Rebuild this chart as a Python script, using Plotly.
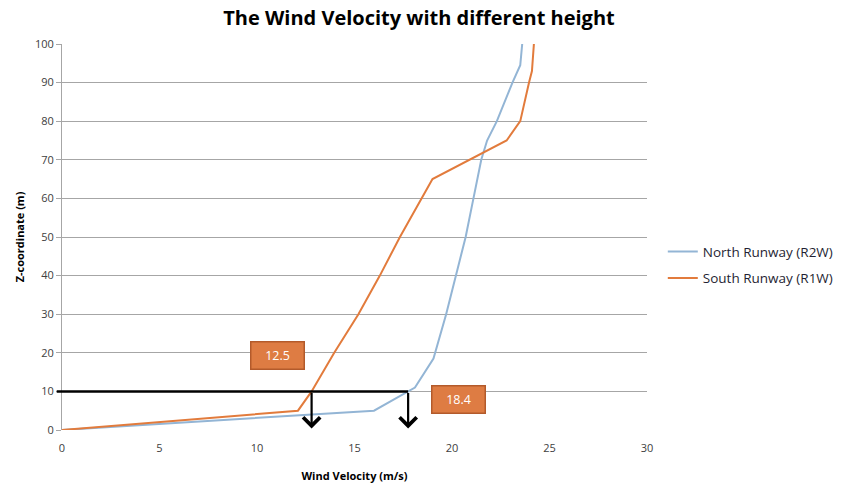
import numpy as np
import plotly.graph_objects as go

# Wind velocity profiles (m/s) against height (m)
north_z = [0, 5, 11, 18.5, 30, 40, 50, 60, 70, 75, 80, 90, 94.5, 100]
north_v = [0, 16.0, 18.1, 19.05, 19.7, 20.2, 20.7, 21.1, 21.5, 21.8, 22.3, 23.1, 23.5, 23.6]

south_z = [0, 5, 10, 20, 30, 40, 50, 60, 65, 75, 80, 90, 93, 100]
south_v = [0, 12.1, 12.8, 13.96, 15.2, 16.3, 17.33, 18.45, 19.0, 22.8, 23.5, 23.95, 24.1, 24.2]

series_names = ["North Runway (R2W)", "South Runway (R1W)"]
callout_values = ["12.5", "18.4"]
reference_height = 10

x_ticks = [0, 5, 10, 15, 20, 25, 30]
y_ticks = list(range(0, 101, 10))

BLUE = "#93B5D5"
ORANGE = "#E27B3C"
BOX_FILL = "#DE7C43"
BOX_EDGE = "#B35A2B"
FONT = "Open Sans"

fig = go.Figure()
fig.add_trace(go.Scatter(x=north_v, y=north_z, mode="lines", name=series_names[0],
                         line=dict(color=BLUE, width=2), legendgroup="n"))
fig.add_trace(go.Scatter(x=south_v, y=south_z, mode="lines", name=series_names[1],
                         line=dict(color=ORANGE, width=2), legendgroup="s"))

# velocities where each profile crosses the reference height
v_south_ref = float(np.interp(reference_height, south_z, south_v))
v_north_ref = float(np.interp(reference_height, north_z, north_v))

# horizontal reference line at z = 10, starting just left of the axis
fig.add_shape(type="line", xref="paper", yref="y", x0=-0.009, x1=v_north_ref / 30,
              y0=reference_height, y1=reference_height, line=dict(color="black", width=2.5))

# drop arrows down to the velocity axis
for v in (v_south_ref, v_north_ref):
    fig.add_annotation(x=v, y=0.4, ax=v, ay=reference_height, xref="x", yref="y",
                       axref="x", ayref="y", showarrow=True, arrowhead=4,
                       arrowsize=1.5, arrowwidth=2.2, arrowcolor="black", text="")

# value call-out boxes
for txt, (cx, cy) in zip(callout_values, [(11.05, 19.3), (20.35, 8.0)]):
    fig.add_annotation(x=cx, y=cy, xref="x", yref="y", text=txt, showarrow=False,
                       font=dict(family=FONT, size=12.5, color="white"),
                       bgcolor=BOX_FILL, bordercolor=BOX_EDGE, borderwidth=1.5,
                       width=50, height=24)

fig.update_layout(
    width=843, height=484,
    margin=dict(l=62, r=196, t=44, b=54, autoexpand=False),
    paper_bgcolor="white", plot_bgcolor="white",
    title=dict(text="<b>The Wind Velocity with different height</b>", x=0.497, xanchor="center",
               y=0.963, yanchor="middle", font=dict(family=FONT, size=20, color="black")),
    showlegend=True,
    legend=dict(x=1.027, y=0.427, yanchor="middle", xanchor="left",
                font=dict(family=FONT, size=13.5, color="#1F1F33"),
                tracegroupgap=6, traceorder="grouped", bgcolor="rgba(0,0,0,0)"),
    xaxis=dict(range=[0, 30], tickvals=x_ticks, showgrid=False, zeroline=False,
               showline=False, ticks="outside", ticklen=8, tickcolor="rgba(0,0,0,0)",
               automargin=False,
               tickfont=dict(family=FONT, size=11, color="#404040"),
               title=dict(text="<b>Wind Velocity (m/s)</b>", standoff=18,
                          font=dict(family=FONT, size=11, color="black"))),
    yaxis=dict(range=[0, 100], tickvals=y_ticks, showgrid=True, gridcolor="#A6A6A6",
               gridwidth=1, zeroline=False, showline=True, linecolor="#A6A6A6",
               ticks="outside", ticklen=5, tickcolor="#A6A6A6", automargin=False,
               tickfont=dict(family=FONT, size=11, color="#404040"),
               title=dict(text="<b>Z-coordinate (m)</b>", standoff=8,
                          font=dict(family=FONT, size=11, color="black"))),
)

fig.write_html("out.html")
